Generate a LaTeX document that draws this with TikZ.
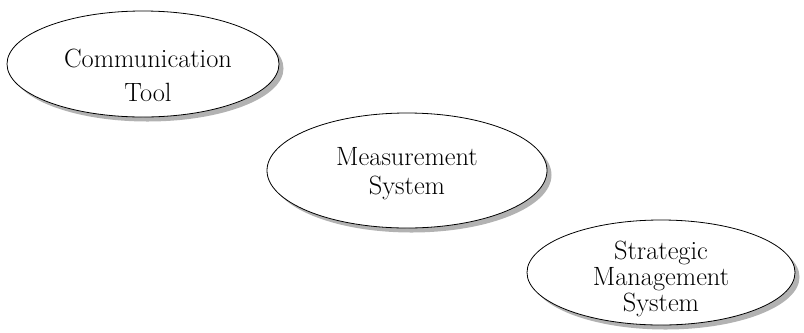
\documentclass[tikz,border=0pt]{standalone}
\usetikzlibrary{shapes.geometric,shadows}
\begin{document}
\begin{tikzpicture}[x=1bp,y=-1bp,
  oval/.style={ellipse, draw=black, line width=0.8bp, fill=white, inner sep=0pt,
    drop shadow={shadow xshift=4.5bp, shadow yshift=-4.5bp, fill=black!30, opacity=1}},
  lbl/.style={align=center, font=\fontsize{26.5}{29}\selectfont, inner sep=0pt}]
\useasboundingbox (0,0) rectangle (804,332);
\node[oval, minimum width=272bp, minimum height=106bp] (e1) at (143,64) {};
\node[oval, minimum width=280bp, minimum height=115bp] (e2) at (407,170.5) {};
\node[oval, minimum width=268bp, minimum height=105bp] (e3) at (661,272.5) {};
\node[lbl, font=\fontsize{26.5}{34}\selectfont] (t1) at (148,75) {Communication\\Tool};
\node[lbl] (t2) at (407,174) {Measurement\\System};
\node[lbl, font=\fontsize{26.5}{26}\selectfont] (t3) at (661,279) {Strategic\\Management\\System};
\end{tikzpicture}
\end{document}
